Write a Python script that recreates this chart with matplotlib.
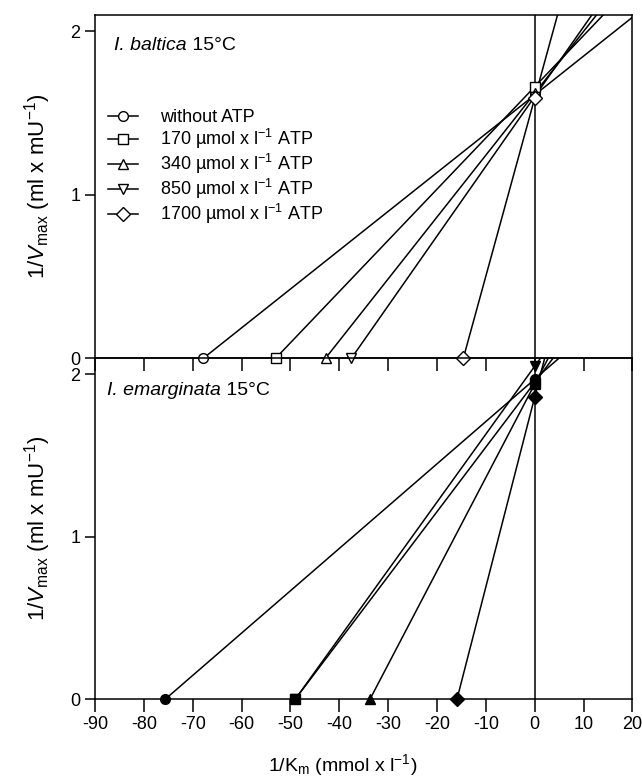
#Lineweaver-Burk plots for two Idotea species at 15 C, with and without ATP
import numpy as np
import matplotlib.pyplot as plt
from matplotlib.lines import Line2D

#=====================Data===============
labels = ['without ATP',
          '170 µmol x l$^{-1}$ ATP',
          '340 µmol x l$^{-1}$ ATP',
          '850 µmol x l$^{-1}$ ATP',
          '1700 µmol x l$^{-1}$ ATP']
markers = ['o', 's', '^', 'v', 'D']

# I. baltica: x-intercepts (-1/Km) and y-intercepts (1/Vmax)
baltica_km = [-67.8, -53.0, -42.8, -37.5, -14.6]
baltica_vm = [1.61, 1.66, 1.62, 1.60, 1.59]

# I. emarginata
emarg_km = [-75.6, -49.0, -33.7, -49.0, -15.9]
emarg_vm = [1.97, 1.95, 1.94, 2.05, 1.86]

xticks = [-90, -80, -70, -60, -50, -40, -30, -20, -10, 0, 10, 20]
yticks = [0, 1, 2]

#=====================Style===============
plt.rcParams['font.family'] = ['Liberation Sans', 'DejaVu Sans']
plt.rcParams['mathtext.fontset'] = 'custom'
plt.rcParams['mathtext.rm'] = 'Liberation Sans'
plt.rcParams['mathtext.it'] = 'Liberation Sans:italic'
plt.rcParams['axes.unicode_minus'] = False
plt.rcParams['font.size'] = 13

fig = plt.figure(figsize=(6.42, 7.82), dpi=100)
ax1 = fig.add_axes([0.148, 0.542, 0.837, 0.439])
ax2 = fig.add_axes([0.148, 0.106, 0.837, 0.436])
ax2.patch.set_visible(False)  # let the upper panel's x ticks show through

ylab = '1/$\\it{V}$$_{\\rm max}$ (ml x mU$^{-1}$)'


def draw_panel(ax, km, vm, filled):
    xmax = 20
    for i in range(len(km)):
        slope = vm[i] / (0 - km[i])
        xs = np.array([km[i], xmax])
        ys = vm[i] + slope * xs
        ax.plot(xs, ys, color='black', linewidth=1.1, zorder=2)
        fc = 'black' if filled else 'white'
        ax.plot([km[i], 0], [0, vm[i]], linestyle='none', marker=markers[i],
                markersize=7, markerfacecolor=fc, markeredgecolor='black',
                markeredgewidth=1.0, clip_on=False, zorder=3)
    ax.axvline(0, color='black', linewidth=1.1, zorder=1)
    ax.set_xlim(-90, 20)
    ax.set_ylim(0, 2.1)
    ax.set_xticks(xticks)
    ax.set_yticks(yticks)
    ax.tick_params(axis='x', direction='out', length=9, width=1.1, top=False, labelsize=13)
    ax.tick_params(axis='y', direction='out', length=7, width=1.1, right=False, labelsize=13)
    for s in ax.spines.values():
        s.set_linewidth(1.1)
    ax.set_ylabel(ylab, fontsize=16)
    ax.yaxis.set_label_coords(-0.078, 0.5)


def panel_title(ax, species, x, y):
    t = ax.text(x, y, species, transform=ax.transAxes, fontsize=14,
                fontstyle='italic', va='center')
    ax.annotate(' 15°C', xy=(1, 0.5), xycoords=t, fontsize=14, va='center')


draw_panel(ax1, baltica_km, baltica_vm, False)
draw_panel(ax2, emarg_km, emarg_vm, True)

ax1.tick_params(axis='x', labelbottom=False)
ax2.set_xlabel('1/K$_{\\rm m}$ (mmol x l$^{-1}$)', fontsize=14)
ax2.xaxis.set_label_coords(0.46, -0.155)

panel_title(ax1, 'I. baltica', 0.036, 0.91)
panel_title(ax2, 'I. emarginata', 0.022, 0.905)

# legend built from line+marker handles
handles = [Line2D([0], [0], color='black', linewidth=1.1, marker=m, markersize=7,
                  markerfacecolor='white', markeredgecolor='black') for m in markers]
ax1.legend(handles, labels, loc='upper left', bbox_to_anchor=(0.0, 0.762), frameon=False,
           handlelength=1.7, handletextpad=1.2, labelspacing=0.05, borderaxespad=0.3,
           fontsize=13)

plt.savefig('out.png', dpi=100)
